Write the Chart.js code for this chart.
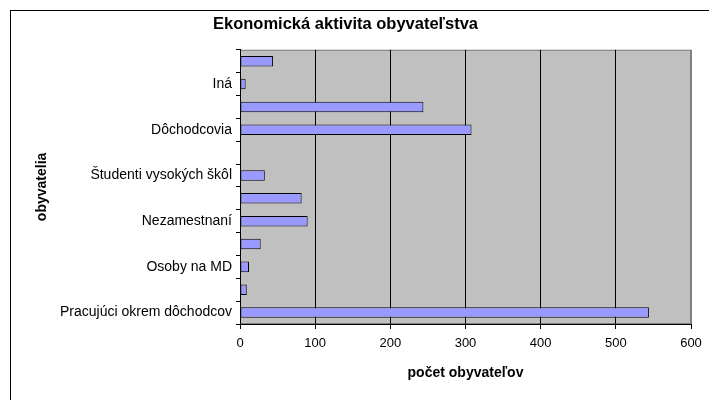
<!DOCTYPE html>
<html>
<head>
<meta charset="utf-8">
<script src="https://cdn.jsdelivr.net/npm/chart.js@4/dist/chart.umd.min.js"></script>
<style>
    body { margin: 0; background: #fff; }
    #wrap { width: 709px; height: 400px; }
</style>
</head>
<body>
<div id="wrap"><canvas id="chart" width="709" height="400"></canvas></div>
<script>
// categories from top to bottom; Excel only printed every other label
const categories = [
    '', 'Iná', '', 'Dôchodcovia', '', 'Študenti vysokých škôl',
    '', 'Nezamestnaní', '', 'Osoby na MD', '', 'Pracujúci okrem dôchodcov'
];
const obyvatelia = [44, 7.5, 244, 308, null, 33, 82, 90, 27.5, 12, 9, 544];
const xTicks = [0, 100, 200, 300, 400, 500, 600];

const FONT = 'Liberation Sans, Arial, sans-serif';

// gray plot area + thin frame round the whole chart (Excel look)
const excelBackground = {
    id: 'excelBackground',
    beforeDraw(chart) {
        const { ctx, chartArea: a } = chart;
        ctx.save();
        ctx.fillStyle = '#C0C0C0';
        ctx.fillRect(a.left, a.top, a.right - a.left, a.bottom - a.top);
        ctx.strokeStyle = '#808080';
        ctx.lineWidth = 1;
        ctx.strokeRect(a.left + 0.5, a.top + 0.5, a.right - a.left - 1, a.bottom - a.top - 1);
        ctx.strokeStyle = '#000';
        ctx.strokeRect(10.5, 10.5, 800, 500);
        ctx.restore();
    }
};

new Chart(document.getElementById('chart'), {
    type: 'bar',
    data: {
        labels: categories,
        datasets: [{
            label: 'obyvatelia',
            data: obyvatelia,
            backgroundColor: '#9999FF',
            borderColor: '#000',
            borderWidth: 1,
            borderSkipped: false,
            barPercentage: 0.46,
            categoryPercentage: 1
        }]
    },
    options: {
        indexAxis: 'y',
        responsive: false,
        animation: false,
        layout: {
            padding: { left: 0, right: 18, top: 0, bottom: 10 }
        },
        plugins: {
            legend: { display: false },
            tooltip: { enabled: false },
            title: {
                display: true,
                text: 'Ekonomická aktivita obyvateľstva',
                color: '#000',
                font: { family: FONT, size: 16.5, weight: 'bold' },
                padding: { top: 15, bottom: 15 }
            }
        },
        scales: {
            x: {
                min: 0,
                max: 600,
                afterFit(scale) {
                    scale.height = 66;
                    // keep the "600" label from shrinking the plot
                    scale.paddingLeft = 0;
                    scale.paddingRight = 0;
                },
                afterBuildTicks(scale) {
                    scale.ticks = xTicks.map(v => ({ value: v }));
                },
                grid: {
                    color: ctx => (ctx.tick && ctx.tick.value === 600 ? '#808080' : '#000'),
                    tickColor: '#000',
                    tickLength: 5
                },
                border: { color: '#000' },
                ticks: {
                    color: '#000',
                    padding: 7,
                    font: { family: FONT, size: 13 }
                },
                title: {
                    display: true,
                    text: 'počet obyvateľov',
                    color: '#000',
                    font: { family: FONT, size: 14, weight: 'bold' },
                    padding: { top: 0, bottom: 8 }
                }
            },
            y: {
                afterFit(scale) { scale.width = 240; },
                grid: {
                    offset: true,
                    drawOnChartArea: false,
                    color: '#000',
                    tickLength: 4
                },
                border: { color: '#000' },
                ticks: {
                    autoSkip: false,
                    color: '#000',
                    padding: 4,
                    font: { family: FONT, size: 14 }
                },
                title: {
                    display: true,
                    text: 'obyvatelia',
                    color: '#000',
                    font: { family: FONT, size: 14, weight: 'bold' },
                    padding: { top: 34, bottom: 4 }
                }
            }
        }
    },
    plugins: [excelBackground]
});
</script>
</body>
</html>
